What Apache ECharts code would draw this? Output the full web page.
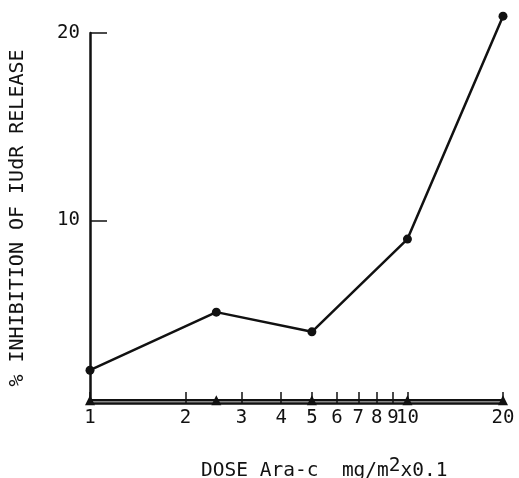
<!DOCTYPE html>
<html>
<head>
<meta charset="utf-8">
<script src="https://cdn.jsdelivr.net/npm/echarts@6/dist/echarts.min.js"></script>
<style>html,body{margin:0;padding:0;background:#fff}#c{width:519px;height:478px}</style>
</head>
<body>
<div id="c"></div>
<script>
// Data
var doses = [1, 2.5, 5, 10, 20];
var inhibitionCircles = [2.0, 5.1, 4.05, 9.0, 20.9];
var inhibitionTriangles = [0.4, 0.4, 0.4, 0.4, 0.4];
var xTickValues = [1, 2, 3, 4, 5, 6, 7, 8, 9, 10, 20];
var yTickValues = [10, 20];

function pairs(xs, ys) { return xs.map(function (x, i) { return [x, ys[i]]; }); }

var font = '"DejaVu Sans Mono", "Liberation Mono", monospace';
var chart = echarts.init(document.getElementById('c'), null, { renderer: 'canvas' });
chart.setOption({
  backgroundColor: '#fff',
  animation: false,
  grid: { left: 86, right: 16, top: 33, bottom: 75, containLabel: false },
  title: {
    text: 'DOSE Ara-c  mg/m{s|2}x0.1',
    left: 196, top: 451,
    textStyle: {
      fontFamily: font, fontSize: 19.5, color: '#111', fontWeight: 'normal',
      rich: { s: { fontFamily: font, fontSize: 19.5, color: '#111', verticalAlign: 'top', padding: [0, 0, 10, 0] } }
    }
  },
  xAxis: {
    type: 'log', logBase: 10, min: 1, max: 20,
    axisLine: { show: true, onZero: false, lineStyle: { color: '#111', width: 2.5 } },
    axisTick: { show: true, inside: true, length: 11, customValues: xTickValues, lineStyle: { color: '#111', width: 1.5 } },
    axisLabel: { customValues: xTickValues, color: '#111', fontFamily: font, fontSize: 19, margin: 6,
      formatter: function (v) { return String(Math.round(v)); } },
    minorTick: { show: false },
    splitLine: { show: false }
  },
  yAxis: {
    type: 'value', min: 0.25, max: 20,
    name: '% INHIBITION OF IUdR RELEASE',
    nameLocation: 'middle', nameRotate: 90, nameGap: 62,
    nameTextStyle: { fontFamily: font, fontSize: 20, color: '#111' },
    axisLine: { show: true, onZero: false, lineStyle: { color: '#111', width: 2.5 } },
    axisTick: { show: true, inside: true, length: 17, customValues: yTickValues, lineStyle: { color: '#111', width: 1.5 } },
    axisLabel: { customValues: yTickValues, color: '#111', fontFamily: font, fontSize: 19, margin: 10 },
    splitLine: { show: false }
  },
  series: [
    {
      type: 'line', data: pairs(doses, inhibitionCircles), clip: false,
      symbol: 'circle', symbolSize: 9,
      lineStyle: { color: '#111', width: 2.5 }, itemStyle: { color: '#111' }
    },
    {
      type: 'line', data: pairs(doses, inhibitionTriangles), clip: false,
      symbol: 'triangle', symbolSize: 10,
      lineStyle: { color: '#111', width: 2.5 }, itemStyle: { color: '#111' }
    }
  ]
});
</script>
</body>
</html>
